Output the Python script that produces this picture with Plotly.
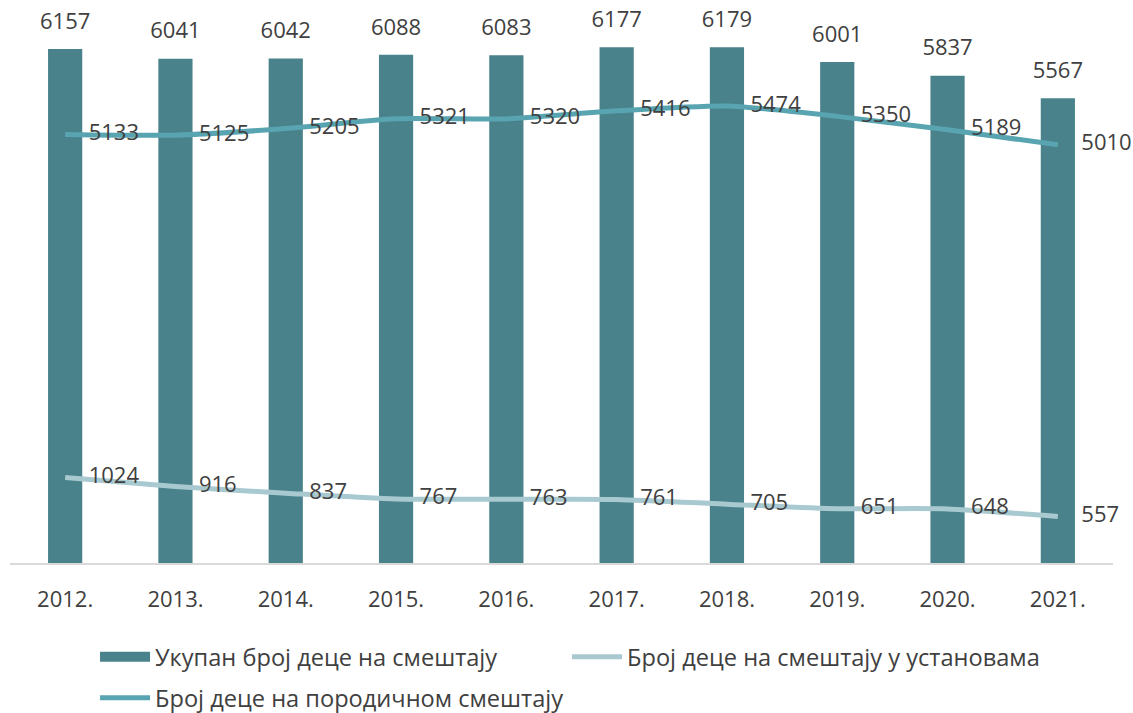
import plotly.graph_objects as go

years = ["2012.", "2013.", "2014.", "2015.", "2016.", "2017.", "2018.", "2019.", "2020.", "2021."]
total = [6157, 6041, 6042, 6088, 6083, 6177, 6179, 6001, 5837, 5567]
family = [5133, 5125, 5205, 5321, 5320, 5416, 5474, 5350, 5189, 5010]
institutions = [1024, 916, 837, 767, 763, 761, 705, 651, 648, 557]

name_total = "Укупан број деце на смештају"
name_inst = "Број деце на смештају у установама"
name_family = "Број деце на породичном смештају"

c_bar = "#49828A"
c_family = "#58A4B0"
c_inst = "#A9C9D0"
c_text = "#404040"
FONT = "Open Sans"
FS = 22
LFS = 23.6

fig = go.Figure()
fig.add_trace(go.Bar(x=years, y=total, marker=dict(color=c_bar, line=dict(width=0)),
                     width=0.31, showlegend=False, name=name_total))
# labels above bars
fig.add_trace(go.Scatter(x=years, y=total, mode="markers+text", text=[str(v) for v in total],
                         textposition="top center", marker=dict(size=22, color="rgba(0,0,0,0)"),
                         textfont=dict(color=c_text, size=FS, family=FONT),
                         showlegend=False, cliponaxis=False, hoverinfo="skip"))
fig.add_trace(go.Scatter(x=years, y=institutions, mode="lines+markers+text", name=name_inst,
                         line=dict(color=c_inst, width=5, shape="spline", smoothing=0.6),
                         marker=dict(size=36, color="rgba(0,0,0,0)"),
                         text=[str(v) for v in institutions], textposition="middle right",
                         textfont=dict(color=c_text, size=FS, family=FONT),
                         cliponaxis=False, legend="legend"))
fig.add_trace(go.Scatter(x=years, y=family, mode="lines+markers+text", name=name_family,
                         line=dict(color=c_family, width=5, shape="spline", smoothing=0.6),
                         marker=dict(size=36, color="rgba(0,0,0,0)"),
                         text=[str(v) for v in family], textposition="middle right",
                         textfont=dict(color=c_text, size=FS, family=FONT),
                         cliponaxis=False, legend="legend2"))
# legend entry for bars
fig.add_trace(go.Scatter(x=[None], y=[None], mode="lines", name=name_total,
                         line=dict(color=c_bar, width=12), legend="legend", legendrank=1))
fig.data[2].legendrank = 2

fig.update_layout(
    width=1133, height=713,
    margin=dict(l=10, r=20, t=0, b=150, autoexpand=False),
    paper_bgcolor="white", plot_bgcolor="white",
    font=dict(family=FONT, size=FS, color=c_text),
    xaxis=dict(range=[-0.5, 9.5], showline=True, linecolor="#D9D9D9", linewidth=2, ticks="",
               tickfont=dict(size=FS, color=c_text), ticklabelstandoff=16, showgrid=False),
    yaxis=dict(range=[0, 6744], visible=False, showgrid=False),
    legend=dict(orientation="h", x=0.0771, xanchor="left", y=-0.167, yanchor="middle",
                entrywidth=407, itemwidth=50, font=dict(size=LFS, color=c_text), traceorder="normal"),
    legend2=dict(orientation="h", x=0.0771, xanchor="left", y=-0.2398, yanchor="middle",
                 itemwidth=50, font=dict(size=LFS, color=c_text)),
)
fig.write_html("out.html", config={"displayModeBar": False},
               post_script="document.body.style.margin='0';document.body.style.overflow='hidden';")
